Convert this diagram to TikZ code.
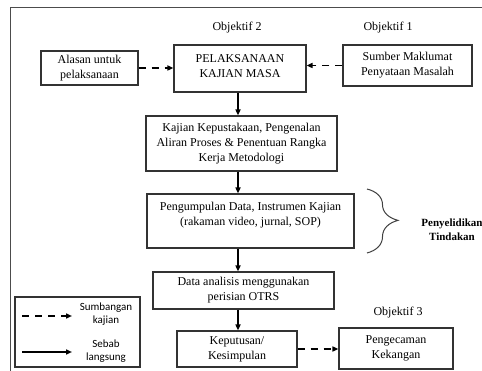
\documentclass[tikz,border=0pt]{standalone}
\usepackage{fontspec}
\setmainfont{Liberation Serif}
\newfontfamily\legendfont{Carlito}
\usetikzlibrary{arrows.meta,positioning,decorations.pathreplacing}

\tikzset{
  kotak/.style={draw=black!80, line width=1.1pt, align=center, inner sep=0pt, font=\fontsize{12}{15}\selectfont},
  tajuk/.style={font=\fontsize{12}{15}\selectfont},
  sebab/.style={-{Triangle[length=6pt,width=5pt]}, line width=1.5pt},
  sumbangan/.style={-{Triangle[length=6pt,width=5pt]}, line width=1.8pt, dash pattern=on 7pt off 6pt},
  petunjuk/.style={align=center, font=\legendfont\fontsize{11}{13}\selectfont}
}

\begin{document}
\begin{tikzpicture}[x=1pt, y=-1pt]
  \useasboundingbox (0,0) rectangle (482,371);
  \fill[white] (0,0) rectangle (482,371);

  % Bingkai luar
  \draw[black!70, line width=1pt] (482,8) -- (10,8) -- (10,371);

  % Objektif
  \node[tajuk] (obj2) at (237,28) {Objektif 2};
  \node[tajuk] (obj1) at (388,28) {Objektif 1};
  \node[tajuk] (obj3) at (398,313) {Objektif 3};

  % Kotak utama
  \node[kotak, minimum width=97pt, minimum height=34pt] (alasan) at (89.5,68) {Alasan untuk\\pelaksanaan};
  \node[kotak, minimum width=132pt, minimum height=47pt, text depth=4pt] (pelaksanaan) at (240,68.5) {PELAKSANAAN\\KAJIAN MASA};
  \node[kotak, minimum width=129pt, minimum height=41pt] (sumber) at (407.5,65.5) {Sumber Maklumat\\Penyataan Masalah};
  \node[kotak, minimum width=191pt, minimum height=55pt] (kajian) at (241.5,143.5) {Kajian Kepustakaan, Pengenalan\\Aliran Proses \& Penentuan Rangka\\Kerja Metodologi};
  \node[kotak, minimum width=207pt, minimum height=54pt] (kumpul) at (250.5,221) {Pengumpulan Data, Instrumen Kajian\\(rakaman video, jurnal, SOP)\\\mbox{}};
  \node[kotak, minimum width=181pt, minimum height=37pt] (data) at (243.5,290.5) {Data analisis menggunakan\\perisian OTRS};
  \node[kotak, minimum width=120pt, minimum height=36pt] (keputusan) at (237,349) {Keputusan/\\Kesimpulan};
  \node[kotak, minimum width=114pt, minimum height=41pt] (pengecaman) at (396,348.5) {Pengecaman\\Kekangan};

  % Anak panah
  \coordinate (poros) at (238,0);
  \draw[sumbangan] (alasan.east) -- (alasan.east -| pelaksanaan.west);
  \draw[sumbangan] (sumber.west) -- (sumber.west -| pelaksanaan.east);
  \draw[sebab] (poros |- pelaksanaan.south) -- (poros |- kajian.north);
  \draw[sebab] (poros |- kajian.south) -- (poros |- kumpul.north);
  \draw[sebab] (poros |- kumpul.south) -- (poros |- data.north);
  \draw[sebab] (poros |- data.south) -- (poros |- keputusan.north);
  \draw[sumbangan] (keputusan.east) -- (keputusan.east -| pengecaman.west);

  % Kurungan
  \coordinate (kurung1) at (367,189);
  \coordinate (kurung2) at (367,253);
  \draw[black!75, line width=1pt, decorate, decoration={brace, amplitude=31pt, aspect=0.49}] (kurung1) -- (kurung2);
  \node[align=center, font=\bfseries\fontsize{11}{14}\selectfont] (tindakan) at (452,230) {Penyelidikan\\Tindakan};

  % Petunjuk
  \node[draw=black!80, line width=1.1pt, minimum width=125pt, minimum height=70pt] (legenda) at (77.5,332) {};
  \coordinate (p1a) at (22,316);
  \coordinate (p1b) at (72,316);
  \coordinate (p2a) at (22,352);
  \coordinate (p2b) at (72,352);
  \draw[sumbangan] (p1a) -- (p1b);
  \draw[sebab] (p2a) -- (p2b);
  \node[petunjuk] (sumbanganteks) at (106,314.5) {Sumbangan\\kajian};
  \node[petunjuk] (sebabteks) at (106,351) {Sebab\\langsung};
\end{tikzpicture}
\end{document}
